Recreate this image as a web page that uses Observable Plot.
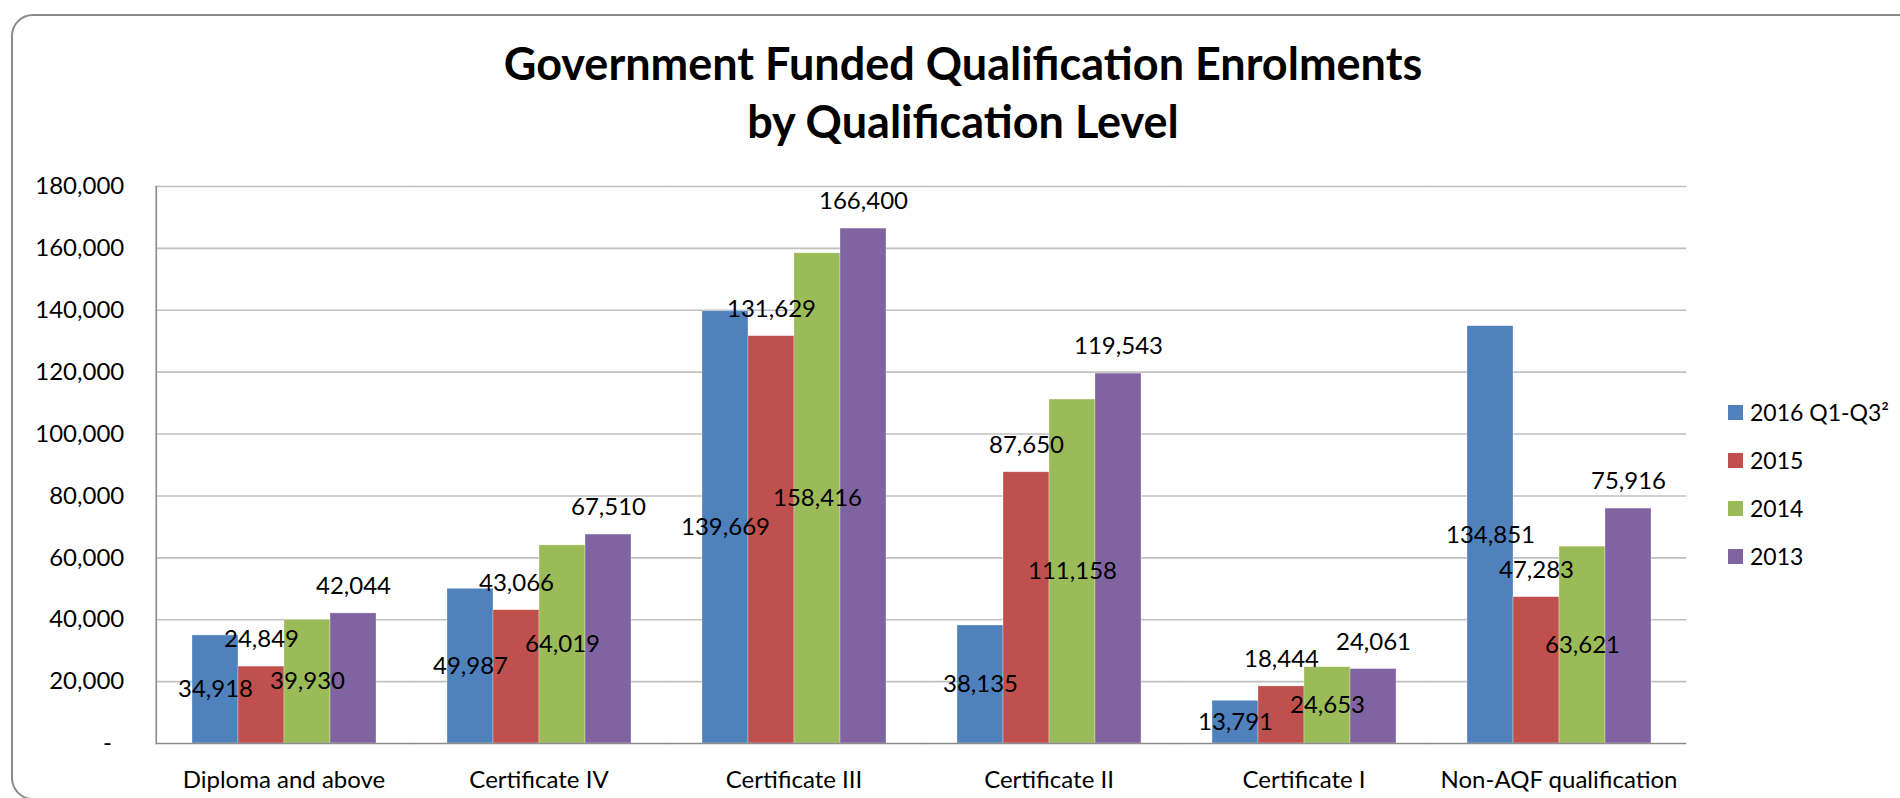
<!DOCTYPE html>
<html>
<head>
<meta charset="utf-8">
<script src="https://cdn.jsdelivr.net/npm/d3@7"></script>
<script src="https://cdn.jsdelivr.net/npm/@observablehq/plot@0.6"></script>
<style>
  html, body { margin: 0; padding: 0; background: #fff; }
  body { width: 1900px; height: 798px; overflow: hidden; position: relative; font-family: Lato, "Noto Sans", sans-serif; }
  #border { position: absolute; left: 11px; top: 14px; width: 1960px; height: 782px; border: 2px solid #8a8a8a; border-radius: 22px; }
  #title { position: absolute; left: 0; top: 34px; width: 1926px; text-align: center; font-weight: 700; font-size: 45px; line-height: 58px; color: #000; }
  #chart { position: absolute; left: 0; top: 0; }
  #legend { position: absolute; left: 1728px; top: 388px; font-size: 23px; color: #000; }
  .row { height: 48px; display: flex; align-items: center; }
  .sw { width: 15px; height: 15px; margin-right: 7px; }
</style>
</head>
<body>
<div id="border"></div>
<div id="chart"></div>
<div id="title">Government Funded Qualification Enrolments<br>by Qualification Level</div>
<div id="legend"></div>
<script>
const categories = ["Diploma and above", "Certificate IV", "Certificate III", "Certificate II", "Certificate I", "Non-AQF qualification"];
const series = ["2016 Q1-Q3²", "2015", "2014", "2013"];
const values2016 = [34918, 49987, 139669, 38135, 13791, 134851];
const values2015 = [24849, 43066, 131629, 87650, 18444, 47283];
const values2014 = [39930, 64019, 158416, 111158, 24653, 63621];
const values2013 = [42044, 67510, 166400, 119543, 24061, 75916];
const yTicks = [0, 20000, 40000, 60000, 80000, 100000, 120000, 140000, 160000, 180000];

const colors = ["#4F81BD", "#C0504D", "#9BBB59", "#8064A2"];
const seriesValues = [values2016, values2015, values2014, values2013];
const rows = categories.flatMap((c, i) => series.map((s, j) => ({category: c, series: s, value: seriesValues[j][i]})));

// Excel label placement: 2016 and 2014 labels centred in the bar, 2015 and 2013 above the bar
const centred = new Set([series[0], series[2]]);
const fmt = d3.format(",");

const W = 1900, H = 798, ML = 154, MR = 213, MT = 186, MB = 55;
const padInner = 0.276;
// facet marks are drawn per facet; extend them by half the gap between facets so they join up
const step = (W - ML - MR) / categories.length;
const gridInset = -(step * padInner) / 2;

const chart = Plot.plot({
  width: W,
  height: H,
  marginLeft: ML,
  marginRight: MR,
  marginTop: MT,
  marginBottom: MB,
  style: {fontFamily: "Lato, 'Noto Sans', sans-serif", fontSize: "24px", color: "#000", background: "transparent", overflow: "visible"},
  fx: {domain: categories, axis: "bottom", paddingInner: padInner, paddingOuter: padInner / 2, label: null, tickSize: 0, tickPadding: 27},
  x: {domain: series, padding: 0, axis: null},
  y: {domain: [0, 180000], ticks: yTicks, tickFormat: d => d === 0 ? "-\u00a0\u00a0" : fmt(d), tickSize: 0, tickPadding: 32 - gridInset, label: null},
  color: {domain: series, range: colors},
  marks: [
    Plot.ruleY(yTicks.filter(d => d > 0), {stroke: "#c0c0c0", strokeWidth: 1.6, insetLeft: gridInset, insetRight: gridInset}),
    Plot.barY(rows, {fx: "category", x: "series", y: "value", fill: "series", stroke: "#ffffff", strokeWidth: 0.6, strokeOpacity: 0.5}),
    Plot.ruleY([0], {stroke: "#8c8c8c", strokeWidth: 1.6, insetLeft: gridInset, insetRight: gridInset}),
    Plot.frame({anchor: "left", stroke: "#8c8c8c", strokeWidth: 1.6, facet: "super", insetLeft: gridInset}),
    Plot.text(rows.filter(d => centred.has(d.series)), {fx: "category", x: "series", y: d => d.value / 2, text: d => fmt(d.value), fill: "#000"}),
    Plot.text(rows.filter(d => !centred.has(d.series)), {fx: "category", x: "series", y: "value", text: d => fmt(d.value), dy: -27, fill: "#000"})
  ]
});
document.getElementById("chart").appendChild(chart);

const legend = document.getElementById("legend");
series.forEach((s, i) => {
  const row = document.createElement("div");
  row.className = "row";
  const sw = document.createElement("div");
  sw.className = "sw";
  sw.style.background = colors[i];
  const t = document.createElement("span");
  t.textContent = s;
  row.appendChild(sw);
  row.appendChild(t);
  legend.appendChild(row);
});
</script>
</body>
</html>
